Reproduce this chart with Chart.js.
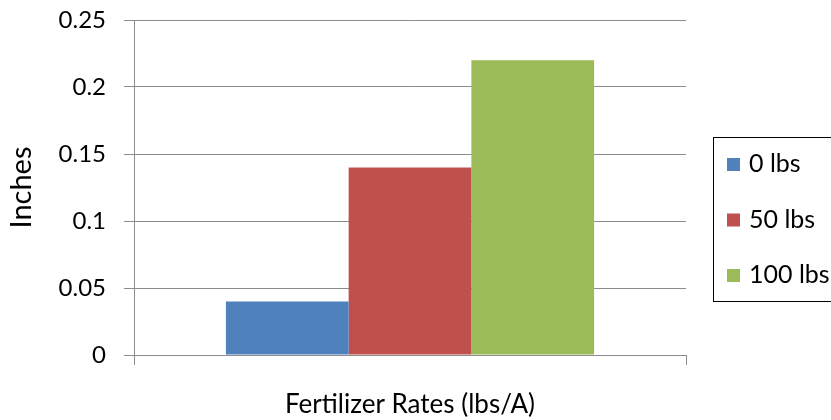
<!DOCTYPE html>
<html><head><meta charset="utf-8">
<script src="https://cdn.jsdelivr.net/npm/chart.js@4"></script>
<style>html,body{margin:0;padding:0;background:#fff}#w{width:831px;height:420px}</style>
</head><body><div id="w"><canvas id="c" width="831" height="420"></canvas></div>
<script>
const categories = [''];
const seriesNames = ['0 lbs', '50 lbs', '100 lbs'];
const seriesValues = [[0.04], [0.14], [0.22]];
const seriesColors = ['#4F81BD', '#C0504D', '#9BBB59'];
const yTicks = [0, 0.05, 0.1, 0.15, 0.2, 0.25];
const yTickLabels = ['0', '0.05', '0.1', '0.15', '0.2', '0.25'];
const xTitle = 'Fertilizer Rates (lbs/A)';
const yTitle = 'Inches';

const FONT = 'Lato, "Open Sans", sans-serif';
const GRID = '#8C8C8C';

const legendBox = {
  id: 'legendBox',
  afterDraw(chart) {
    const ctx = chart.ctx;
    ctx.save();
    ctx.strokeStyle = '#000';
    ctx.lineWidth = 1;
    ctx.strokeRect(713.5, 137.5, 130, 164);
    ctx.font = '25px ' + FONT;
    ctx.textBaseline = 'middle';
    chart.data.datasets.forEach((ds, i) => {
      const cy = 164 + i * 55.5;
      ctx.fillStyle = ds.backgroundColor;
      ctx.fillRect(727, cy - 6, 13, 13);
      ctx.fillStyle = '#000';
      ctx.fillText(ds.label, 749, cy);
    });
    ctx.restore();
  }
};

new Chart(document.getElementById('c'), {
  type: 'bar',
  data: {
    labels: categories,
    datasets: seriesNames.map((n, i) => ({
      label: n, data: seriesValues[i], backgroundColor: seriesColors[i],
      borderWidth: 0, categoryPercentage: 0.667, barPercentage: 1.0
    }))
  },
  options: {
    responsive: false, animation: false,
    layout: { padding: { top: 20, right: 145, left: 0, bottom: 0 } },
    plugins: { legend: { display: false }, tooltip: { enabled: false } },
    scales: {
      x: {
        grid: { display: true, drawOnChartArea: false, drawTicks: true, tickLength: 10, color: GRID, offset: true },
        border: { display: true, color: GRID, width: 1 },
        ticks: { display: false },
        title: { display: true, text: xTitle, color: '#000', font: { family: FONT, size: 26 }, padding: { top: 0, bottom: 0 } },
        afterFit(s) { s.height = 65; s.paddingLeft = 0; s.paddingRight = 0; }
      },
      y: {
        min: 0, max: 0.25,
        afterBuildTicks(s) { s.ticks = yTicks.map(v => ({ value: v })); },
        ticks: { color: '#000', font: { family: FONT, size: 24 }, padding: 18,
                 callback: (v, i) => yTickLabels[i] },
        grid: { color: GRID, tickLength: 10, drawTicks: true },
        border: { display: true, color: GRID, width: 1 },
        title: { display: true, text: yTitle, color: '#000', font: { family: FONT, size: 29 }, padding: { top: 4, bottom: 0 } },
        afterFit(s) { s.width = 134; s.paddingTop = 0; s.paddingBottom = 0; }
      }
    }
  },
  plugins: [legendBox]
});
</script>
</body></html>
